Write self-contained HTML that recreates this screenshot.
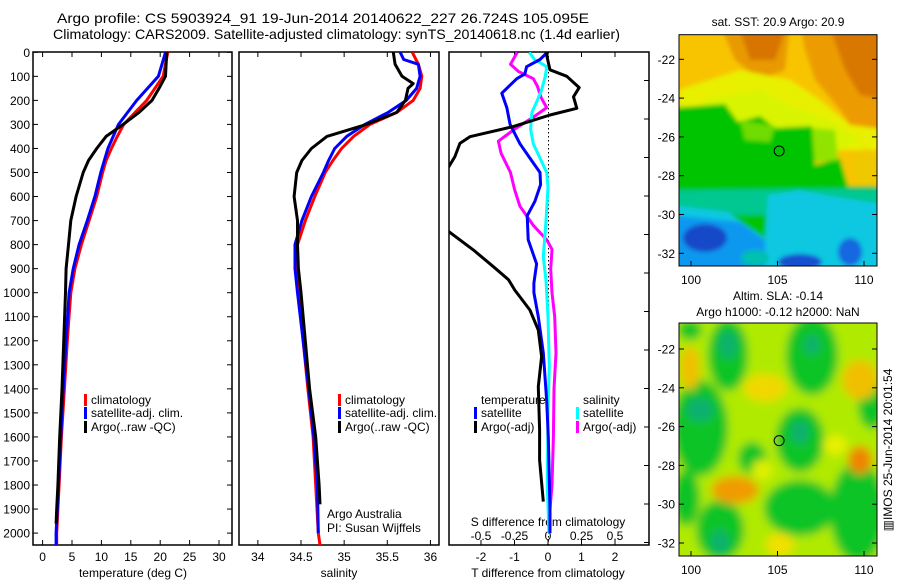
<!DOCTYPE html>
<html><head><meta charset="utf-8">
<style>
html,body{margin:0;padding:0;background:#fff;}
svg{display:block;font-family:"Liberation Sans",sans-serif;}
</style></head>
<body>
<svg id="chart" width="900" height="580" viewBox="0 0 900 580" xmlns="http://www.w3.org/2000/svg">
<defs>
 <clipPath id="cp1"><rect x="33" y="52" width="199" height="493"/></clipPath>
 <clipPath id="cp2"><rect x="239" y="52" width="200" height="493"/></clipPath>
 <clipPath id="cp3"><rect x="449" y="52" width="200" height="493"/></clipPath>
 <clipPath id="cm1"><rect x="679" y="34.7" width="198" height="231.3"/></clipPath>
 <clipPath id="cm2"><rect x="679" y="323" width="198" height="233"/></clipPath>
 <filter id="b1" x="-10%" y="-10%" width="120%" height="120%"><feGaussianBlur stdDeviation="2"/></filter>
 <filter id="b2" x="-50%" y="-50%" width="200%" height="200%"><feGaussianBlur stdDeviation="4.5"/></filter>
</defs>
<text x="57" y="23" font-size="14" textLength="532" lengthAdjust="spacingAndGlyphs">Argo profile: CS 5903924_91 19-Jun-2014 20140622_227 26.724S 105.095E</text>
<text x="53" y="39" font-size="14" textLength="567" lengthAdjust="spacingAndGlyphs">Climatology: CARS2009. Satellite-adjusted climatology: synTS_20140618.nc (1.4d earlier)</text>
<g id="axes"></g>
<g id="maps"></g>
</svg>
<script>
// ---- data (depth in m) ----
const tDepth = [0,100,150,200,250,300,350,400,450,500,600,700,800,900,1000,1400,1600,1800,1900,1960];
const tArgo  = [21.1,20.9,19.8,18.6,16.4,13.7,10.8,9.2,7.8,6.9,5.7,4.8,4.4,4.0,3.9,3.3,2.9,2.6,2.4,2.3];
const tcDepth = [0,100,200,300,350,400,450,500,600,700,800,900,1000,1200,1400,1600,1800,2000,2050];
const tClim  = [21.3,20.5,17.7,13.8,12.7,11.7,10.8,10.2,9.2,7.9,6.6,5.5,4.8,4.2,3.7,3.2,2.8,2.4,2.4];
const tSat   = [20.9,19.7,16.0,12.9,12.0,11.1,10.5,9.9,8.9,7.6,6.2,5.2,4.5,4.0,3.5,3.1,2.7,2.3,2.3];
const sDepth = [0,50,100,130,150,200,250,300,350,400,450,500,600,700,800,900,1000,1400,1600,1800,1880];
const sArgo  = [35.57,35.59,35.67,35.80,35.74,35.71,35.61,35.26,34.80,34.62,34.51,34.45,34.42,34.46,34.46,34.47,34.50,34.60,34.67,34.71,34.72];
const scDepth = [0,50,100,150,200,250,300,350,400,450,500,600,700,800,900,1000,1400,1600,1800,2000,2050];
const sClim  = [35.79,35.86,35.90,35.88,35.80,35.61,35.30,35.11,34.97,34.87,34.78,34.66,34.55,34.46,34.45,34.47,34.58,34.64,34.67,34.70,34.72];
const ssDepth = [0,30,50,100,150,200,250,300,350,400,450,500,600,700,800,900,1000,1400,1600,1800,2000];
const sSat   = [35.65,35.69,35.86,35.88,35.84,35.72,35.51,35.24,35.03,34.89,34.82,34.76,34.62,34.51,34.43,34.43,34.46,34.59,34.65,34.69,34.70];
const dtaDepth = [0,73,100,147,185,233,261,309,351,379,434,476,560,650,746,822,892,946,989,1072,1155,1266,1391,1571,1696,1869];
const dtArgo = [-0.06,0.06,0.56,0.93,0.76,0.86,0.06,-1.04,-2.33,-2.63,-2.78,-2.96,-3.6,-3.6,-2.96,-2.23,-1.63,-1.18,-0.99,-0.54,-0.29,-0.19,-0.29,-0.25,-0.25,-0.14];
const dtsDepth = [0,30,60,90,110,170,230,300,380,440,500,550,620,680,780,880,960,1000,1100,1250,1450,1600,1900,2000];
const dtSat  = [-0.02,-0.24,-0.64,-0.69,-0.93,-1.38,-1.23,-1.13,-0.84,-0.54,-0.24,-0.22,-0.39,-0.62,-0.59,-0.34,-0.42,-0.42,-0.29,-0.14,-0.04,0.01,0.06,0.06];
const dssDepth = [0,30,60,100,160,200,250,320,380,440,500,560,700,850,950,1100,1300,1500,1800,2000];
const dsSat  = [-0.14,-0.10,-0.01,-0.02,-0.05,-0.08,-0.12,-0.13,-0.11,-0.06,-0.01,0.0,-0.015,-0.035,-0.015,0.0,0.01,0.0,-0.005,0.007];
const dsaDepth = [0,50,80,110,140,190,230,270,320,370,420,500,570,640,720,780,820,900,1000,1100,1250,1400,1600,1800,1900];
const dsArgo = [-0.23,-0.28,-0.22,-0.11,-0.08,-0.05,-0.01,-0.11,-0.25,-0.37,-0.35,-0.28,-0.25,-0.21,-0.11,-0.01,0.03,0.02,0.03,0.05,0.06,0.045,0.04,0.03,0.015];
const depthTicks = [0,100,200,300,400,500,600,700,800,900,1000,1100,1200,1300,1400,1500,1600,1700,1800,1900,2000];
const tTicks = [0,5,10,15,20,25,30];
const sTicks = [34,34.5,35,35.5,36];
const sTickLabels = ["34","34.5","35","35.5","36"];
const dtTicks = [-2,-1,0,1,2];
const dsTicks = [-0.5,-0.25,0,0.25,0.5];
const latTicks = [-22,-24,-26,-28,-30,-32];
const lonTicks = [100,105,110];
const argoLon = 105.095, argoLat = -26.724;

// ---- axis functions ----
const yD = d => 52.3 + d*0.2404;
const xT = t => 42.6 + 5.88*t;
const xS = s => 301 + 86.3*(s-34.5);
const xDT = v => 548 + 33.5*v;
const xDS = v => 548 + 134*v;
const mx = lon => 691 + (lon-100)*17.3;
const my1 = lat => 59.3 + (-22-lat)*19.4;
const my2 = lat => 349 + (-22-lat)*19.4;

const NS="http://www.w3.org/2000/svg";
const axes=document.getElementById('axes');
function mk(tag,attrs,parent){const e=document.createElementNS(NS,tag);for(const k in attrs)e.setAttribute(k,attrs[k]);(parent||axes).appendChild(e);return e;}
function txt(x,y,s,size,anchor,parent){const e=mk('text',{x:x,y:y,'font-size':size,'text-anchor':anchor||'start'},parent);e.textContent=s;return e;}

function line(xs,ds,fx,color,clip,name){
  const pts=xs.map((v,i)=>fx(v).toFixed(1)+','+yD(ds[i]).toFixed(1)).join(' ');
  const p=mk('polyline',{points:pts,fill:'none',stroke:color,'stroke-width':3,'stroke-linejoin':'round','clip-path':'url(#'+clip+')'});
  
  
}

const panels=[{x:33,w:199},{x:239,w:200},{x:449,w:200}];
panels.forEach((p,i)=>{
  const r=mk('rect',{x:p.x,y:52,width:p.w,height:493,fill:'none',stroke:'#000','stroke-width':1.5});
  
  
});
depthTicks.forEach(d=>{
  const y=yD(d);
  const l=txt(30,y+4.5,String(d),12,'end');
  
  
  mk('line',{x1:33,x2:38,y1:y,y2:y,stroke:'#000'});
  mk('line',{x1:227,x2:232,y1:y,y2:y,stroke:'#000'});
});
for(let k=0;k<13;k++){const y=80.5+k*38.5; if(y<545) mk('line',{x1:644,x2:649,y1:y,y2:y,stroke:'#000'});}
tTicks.forEach(t=>{const x=xT(t);mk('line',{x1:x,x2:x,y1:545,y2:540,stroke:'#000'});mk('line',{x1:x,x2:x,y1:52,y2:57,stroke:'#000'});
  const l=txt(x,561,String(t),12,'middle');});
sTicks.forEach((s,i)=>{const x=xS(s);mk('line',{x1:x,x2:x,y1:545,y2:540,stroke:'#000'});mk('line',{x1:x,x2:x,y1:52,y2:57,stroke:'#000'});
  const l=txt(x,561,sTickLabels[i],12,'middle');});
dtTicks.forEach(v=>{const x=xDT(v);mk('line',{x1:x,x2:x,y1:545,y2:540,stroke:'#000'});mk('line',{x1:x,x2:x,y1:52,y2:57,stroke:'#000'});
  const l=txt(x,561,String(v),12,'middle');});
dsTicks.forEach(v=>{const l=txt(xDS(v),540,String(v),12,'middle');});
[['temperature (deg C)',133,'temperature-axis-title'],['salinity',339,'salinity-axis-title'],['T difference from climatology',548,'t-diff-axis-title']].forEach(a=>{
  const l=txt(a[1],577,a[0],12,'middle');});
const sdt=txt(548,526,'S difference from climatology',12,'middle');


mk('line',{x1:548.5,x2:548.5,y1:52,y2:545,stroke:'#000','stroke-dasharray':'1.5,2.5'});

line(tClim,tcDepth,xT,'#ff0000','cp1','temperature-climatology-line');
line(tSat,tcDepth,xT,'#0000ff','cp1','temperature-satellite-line');
line(tArgo,tDepth,xT,'#000000','cp1','temperature-argo-line');
line(sClim,scDepth,xS,'#ff0000','cp2','salinity-climatology-line');
line(sSat,ssDepth,xS,'#0000ff','cp2','salinity-satellite-line');
line(sArgo,sDepth,xS,'#000000','cp2','salinity-argo-line');
line(dsArgo,dsaDepth,xDS,'#ff00ff','cp3','s-diff-argo-line');
line(dsSat,dssDepth,xDS,'#00ffff','cp3','s-diff-satellite-line');
line(dtSat,dtsDepth,xDT,'#0000ff','cp3','t-diff-satellite-line');
line(dtArgo,dtaDepth,xDT,'#000000','cp3','t-diff-argo-line');

function leg(x,y,color,label,name){
  const g=mk('g',{});
  
  
  mk('rect',{x:x,y:y-10,width:3,height:12,fill:color},g);
  txt(x+7,y,label,12,'start',g);
}
leg(84,404,'#ff0000','climatology','legend-climatology');
leg(84,417,'#0000ff','satellite-adj. clim.','legend-satellite-adj');
leg(84,431,'#000000','Argo(..raw -QC)','legend-argo');
leg(338,404,'#ff0000','climatology','legend-sal-climatology');
leg(338,417,'#0000ff','satellite-adj. clim.','legend-sal-satellite-adj');
leg(338,431,'#000000','Argo(..raw -QC)','legend-sal-argo');
const lt=txt(481,404,'temperature',12);
const ls=txt(583,404,'salinity',12);
leg(474,417,'#0000ff','satellite','legend-t-satellite');
leg(474,431,'#000000','Argo(-adj)','legend-t-argo');
leg(576,417,'#00ffff','satellite','legend-s-satellite');
leg(576,431,'#ff00ff','Argo(-adj)','legend-s-argo');
const a1=txt(327,518,'Argo Australia',12);
const a2=txt(327,532,'PI: Susan Wijffels',12);

// ---- maps ----
const maps=document.getElementById('maps');
function poly(pts,fill,parent){return mk('polygon',{points:pts.map(p=>p.join(',')).join(' '),fill:fill},parent);}
function ell(cx,cy,rx,ry,fill,parent){return mk('ellipse',{cx:cx,cy:cy,rx:rx,ry:ry,fill:fill},parent);}
const m1=mk('g',{'clip-path':'url(#cm1)'},maps);


const m1b=mk('g',{filter:'url(#b1)'},m1);
mk('rect',{x:670,y:25,width:220,height:250,fill:'#f8c400'},m1b);
poly([[720,25],[790,25],[785,70],[760,80],[735,60]],'#e89a00',m1b);
poly([[740,30],[785,30],[775,60],[750,60]],'#d87400',m1b);
poly([[800,25],[890,25],[890,150],[860,140],[840,110],[815,80],[805,50]],'#ec9c00',m1b);
poly([[830,28],[890,28],[890,100],[860,95],[845,70]],'#d87800',m1b);
poly([[679,90],[740,70],[790,80],[820,100],[850,125],[890,130],[890,150],[830,150],[679,130]],'#e8f000',m1b);
poly([[700,100],[760,90],[800,110],[830,120],[860,140],[820,160],[760,140]],'#d8f400',m1b);
poly([[670,108],[725,104],[738,122],[760,116],[775,128],[812,126],[815,165],[840,158],[848,186],[890,186],[890,275],[670,275]],'#00c400',m1b);
poly([[740,120],[775,126],[770,142],[745,140]],'#70dc00',m1b);
poly([[812,128],[835,130],[838,160],[815,162]],'#90e400',m1b);
ell(866,167,14,18,'#f0c800',m1b);
poly([[670,190],[890,188],[890,215],[670,215]],'#00c890',m1b);
poly([[670,205],[728,212],[745,225],[765,238],[768,195],[800,190],[830,196],[890,205],[890,275],[670,275]],'#10c8e0',m1b);
poly([[670,215],[740,222],[765,240],[765,275],[670,275]],'#1098f0',m1b);
ell(705,238,22,14,'#1848c8',m1b);
ell(800,262,22,8,'#1850d0',m1b);
ell(850,252,12,14,'#1868e0',m1b);
ell(755,258,14,8,'#00c0b0',m1b);
mk('rect',{x:679,y:34.7,width:198,height:231.3,fill:'none',stroke:'#000','stroke-width':1},maps);
const m2=mk('g',{'clip-path':'url(#cm2)'},maps);


const m2b=mk('g',{filter:'url(#b2)'},m2);
mk('rect',{x:670,y:310,width:220,height:260,fill:'#b0ea00'},m2b);
[[728,355,20,36],[812,355,26,40],[700,428,28,48],[800,440,24,32],[872,405,14,24],[720,530,24,30],[800,508,36,28],[858,512,28,50],[686,498,14,28],[752,458,14,16],[690,330,12,10]].forEach(e=>ell(e[0],e[1],e[2],e[3],'#10c428',m2b));
[[728,345,9,14],[700,410,14,12],[800,432,9,12],[720,542,9,12],[812,345,8,10]].forEach(e=>ell(e[0],e[1],e[2],e[3],'#10b070',m2b));
[[690,368,10,22,'#f0c000'],[765,388,22,14,'#f0d800'],[860,380,18,20,'#f0c000'],[860,460,12,14,'#f08400'],[735,490,24,14,'#f09c00'],[780,545,14,12,'#f0e000'],[835,445,12,10,'#e8f000'],[762,470,10,10,'#e0f000']].forEach(e=>ell(e[0],e[1],e[2],e[3],e[4],m2b));
mk('rect',{x:679,y:323,width:198,height:233,fill:'none',stroke:'#000','stroke-width':1},maps);

[[my1,266,280,'sst'],[my2,556,570,'sla']].forEach(cfg=>{
  const f=cfg[0];
  latTicks.forEach(lat=>{const y=f(lat);mk('line',{x1:679,x2:684,y1:y,y2:y,stroke:'#000'},maps);mk('line',{x1:872,x2:877,y1:y,y2:y,stroke:'#000'},maps);
    const l=txt(675,y+4.5,String(lat),12,'end',maps);});
  lonTicks.forEach(lon=>{const x=mx(lon);mk('line',{x1:x,x2:x,y1:cfg[1],y2:cfg[1]-5,stroke:'#000'},maps);
    const l=txt(x,cfg[2]+4,String(lon),12,'middle',maps);});
  const c=mk('circle',{cx:mx(argoLon),cy:f(argoLat),r:5,fill:'none',stroke:'#000','stroke-width':1},maps);
  
  
});
const t1=txt(778,26,'sat. SST: 20.9 Argo: 20.9',12,'middle',maps);
const t2=txt(778,300,'Altim. SLA: -0.14',12,'middle',maps);
const t3=txt(778,316,'Argo h1000: -0.12 h2000: NaN',12,'middle',maps);
const v=txt(0,0,'\u25A5IMOS 25-Jun-2014 20:01:54',12,'middle',maps);
v.setAttribute('transform','translate(892,450) rotate(-90)');


</script>
</body></html>
